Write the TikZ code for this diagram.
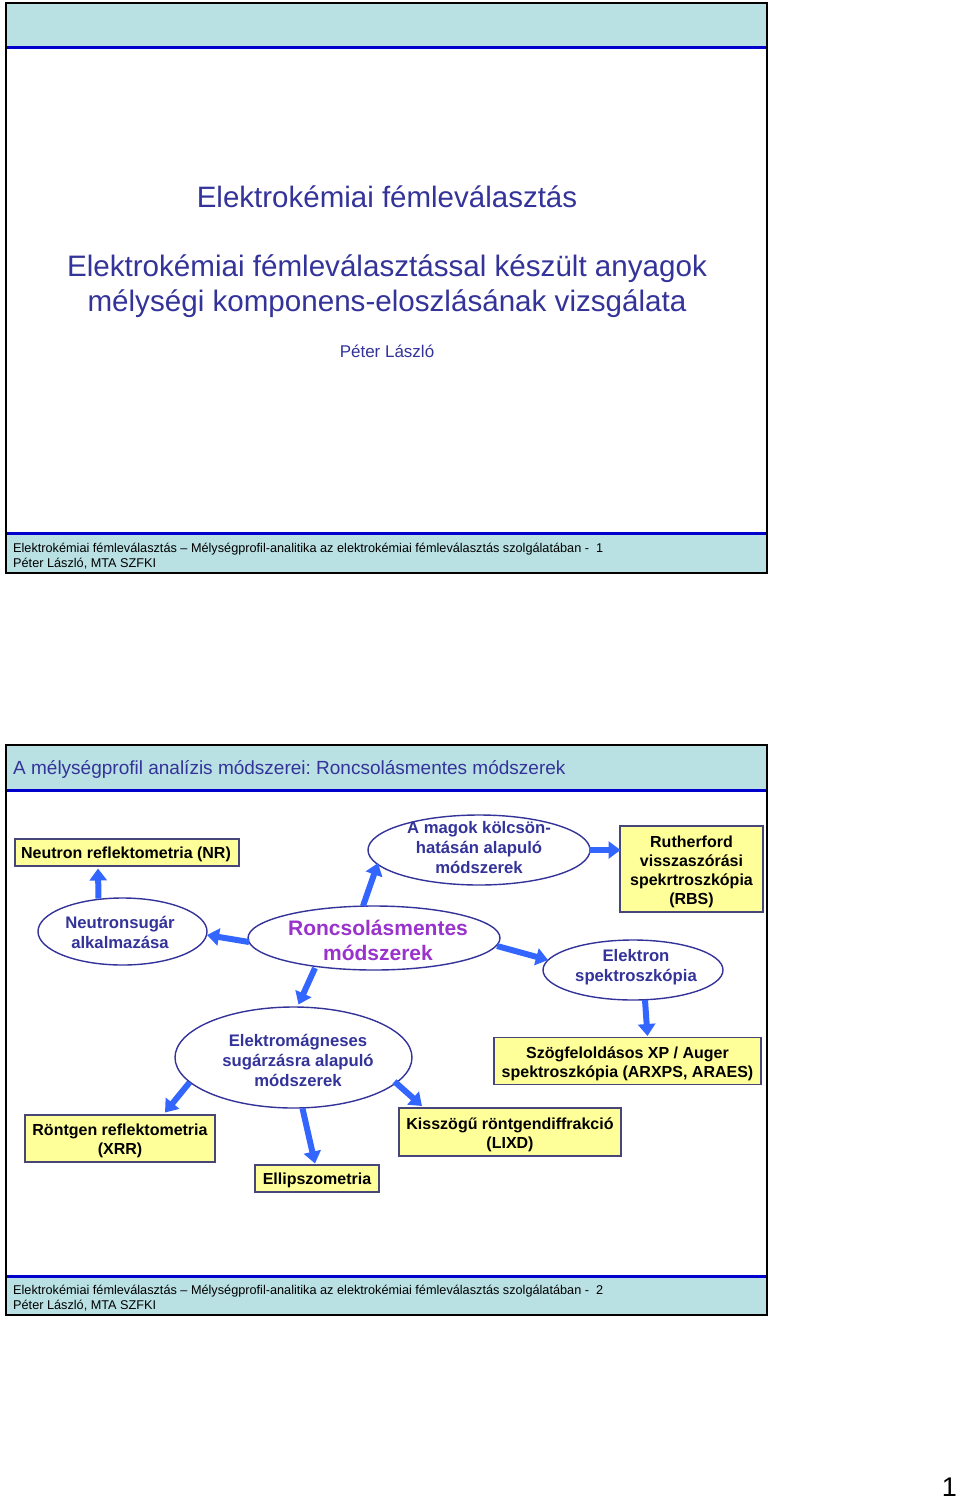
\documentclass[tikz,border=0pt]{standalone}
\usepackage{fontspec}
\setmainfont{Liberation Sans}
\frenchspacing
\usetikzlibrary{shapes.geometric,arrows.meta,calc}
\definecolor{bandblue}{RGB}{185,224,227}
\definecolor{lineblue}{RGB}{0,0,204}
\definecolor{txtblue}{RGB}{51,51,153}
\definecolor{purp}{RGB}{153,51,204}
\definecolor{arrblue}{RGB}{51,102,255}
\definecolor{boxyellow}{RGB}{255,255,153}
\definecolor{boxborder}{RGB}{70,70,120}
\tikzset{
 ell/.style={ellipse, draw=txtblue, line width=1.4pt, fill=white, inner sep=0pt},
 etxt/.style={text=txtblue, font=\fontsize{16.7}{20}\selectfont\bfseries, align=center, inner sep=0pt},
 ybox/.style={rectangle, draw=boxborder, fill=boxyellow, line width=1.8pt, inner sep=0pt},
 btxt/.style={text=black, font=\fontsize{16}{19}\selectfont\bfseries, align=center, inner sep=0pt},
 arr/.style={draw=arrblue, line width=6pt, -{Triangle[length=12pt,width=17pt]}},
 foot/.style={anchor=base west, inner sep=0pt, font=\fontsize{12.7}{15}\selectfont},
 slideframe/.style={draw=black, line width=1.5pt},
 bandline/.style={draw=lineblue, line width=3pt},
}
\begin{document}
\begin{tikzpicture}[x=1pt,y=-1pt]
\useasboundingbox (0,0) rectangle (960,1500);

% ---------- Slide 1 ----------
\fill[bandblue] (6,3) rectangle (767,47);
\fill[bandblue] (6,534) rectangle (767,573);
\draw[bandline] (6,47.5) -- (767,47.5);
\draw[bandline] (6,533.5) -- (767,533.5);
\draw[slideframe] (6,3) rectangle (767,573);

\node[text=txtblue, font=\fontsize{29.5}{35}\selectfont, inner sep=0pt] (t1) at (387,197) {Elektrokémiai fémleválasztás};
\node[text=txtblue, font=\fontsize{29.6}{35}\selectfont, inner sep=0pt, align=center] (t2) at (387,286.5) {Elektrokémiai fémleválasztással készült anyagok\\mélységi komponens-eloszlásának vizsgálata};
\node[text=txtblue, font=\fontsize{17}{20}\selectfont, inner sep=0pt] (t3) at (387,351) {Péter László};

\node[foot] (f1a) at (13,552.5) {Elektrokémiai fémleválasztás -- Mélységprofil-analitika az elektrokémiai fémleválasztás szolgálatában -\ \ 1};
\node[foot] (f1b) at (13,567.5) {Péter László, MTA SZFKI};

% ---------- Slide 2 ----------
\fill[bandblue] (6,745) rectangle (767,789);
\fill[bandblue] (6,1277) rectangle (767,1315);
\draw[bandline] (6,790) -- (767,790);
\draw[bandline] (6,1276.5) -- (767,1276.5);
\draw[slideframe] (6,745) rectangle (767,1315);

\node[anchor=west, text=txtblue, font=\fontsize{19}{22}\selectfont, inner sep=0pt] (h2) at (13,769) {A mélységprofil analízis módszerei: Roncsolásmentes módszerek};

\node[foot] (f2a) at (13,1294.5) {Elektrokémiai fémleválasztás -- Mélységprofil-analitika az elektrokémiai fémleválasztás szolgálatában -\ \ 2};
\node[foot] (f2b) at (13,1309.5) {Péter László, MTA SZFKI};

% boxes
\node[ybox, minimum width=224pt, minimum height=27pt] (nr) at (127,852.5) {};
\node[ybox, minimum width=143pt, minimum height=86pt] (rbs) at (691.5,869) {};
\node[ybox, minimum width=190pt, minimum height=47pt] (xrr) at (120,1138.5) {};
\node[ybox, minimum width=124pt, minimum height=27pt] (ellsz) at (317,1178.5) {};
\node[ybox, minimum width=222pt, minimum height=48pt] (lixd) at (510,1132) {};
\node[ybox, minimum width=267pt, minimum height=47pt] (arxps) at (627.5,1061) {};

\node[btxt] (nrT) at (126,854) {Neutron reflektometria (NR)};
\node[btxt] (rbsT) at (691.5,871.5) {Rutherford\\visszaszórási\\spekrtroszkópia\\(RBS)};
\node[btxt] (xrrT) at (120,1140.5) {Röntgen reflektometria\\(XRR)};
\node[btxt] (ellszT) at (317,1180) {Ellipszometria};
\node[btxt] (lixdT) at (510,1134.5) {Kisszögű röntgendiffrakció\\(LIXD)};
\node[btxt] (arxpsT) at (627.5,1063.5) {Szögfeloldásos XP / Auger\\spektroszkópia (ARXPS, ARAES)};

% ellipses
\node[ell, minimum width=169pt, minimum height=67pt] (neut) at (122.5,931.5) {};
\node[ell, minimum width=252pt, minimum height=64pt] (roncs) at (374,938) {};
\node[ell, minimum width=222pt, minimum height=70pt] (magok) at (479,850) {};
\node[ell, minimum width=180pt, minimum height=60pt] (elek) at (633,970) {};
\node[ell, minimum width=237pt, minimum height=101pt] (em) at (293.5,1057.5) {};

\node[etxt] (neutT) at (120,932) {Neutronsugár\\alkalmazása};
\node[etxt, text=purp, font=\fontsize{21}{25}\selectfont\bfseries] (roncsT) at (378,940.5) {Roncsolásmentes\\módszerek};
\node[etxt] (magokT) at (479,848) {A magok kölcsön-\\hatásán alapuló\\módszerek};
\node[etxt] (elekT) at (636,967.5) {Elektron\\spektroszkópia};
\node[etxt] (emT) at (298,1060) {Elektromágneses\\sugárzásra alapuló\\módszerek};

% arrows
\draw[arr] ($(neut)+(-24,-33)$) -- ($(nr)+(-29,16)$);
\draw[arr] ($(roncs)+(-125,4)$) -- ($(neut)+(84.5,3.5)$);
\draw[arr] ($(roncs)+(-11,-32)$) -- ($(magok)+(-101,13)$);
\draw[arr] ($(magok)+(110,0)$) -- ($(rbs)+(-71,-19)$);
\draw[arr] ($(roncs)+(123,8)$) -- ($(elek)+(-85,-10)$);
\draw[arr] ($(roncs)+(-59,30)$) -- ($(em)+(5,-53)$);
\draw[arr] ($(elek)+(12,30)$) -- ($(arxps)+(20,-25)$);
\draw[arr] ($(em)+(-104,25)$) -- ($(xrr)+(45,-26)$);
\draw[arr] ($(em)+(9,51)$) -- ($(ellsz)+(-2,-15)$);
\draw[arr] ($(em)+(101,24)$) -- ($(lixd)+(-88,-26)$);

% page number
\node[font=\fontsize{27}{30}\selectfont, inner sep=0pt, anchor=east] (pg) at (957,1487) {1};
\end{tikzpicture}
\end{document}
